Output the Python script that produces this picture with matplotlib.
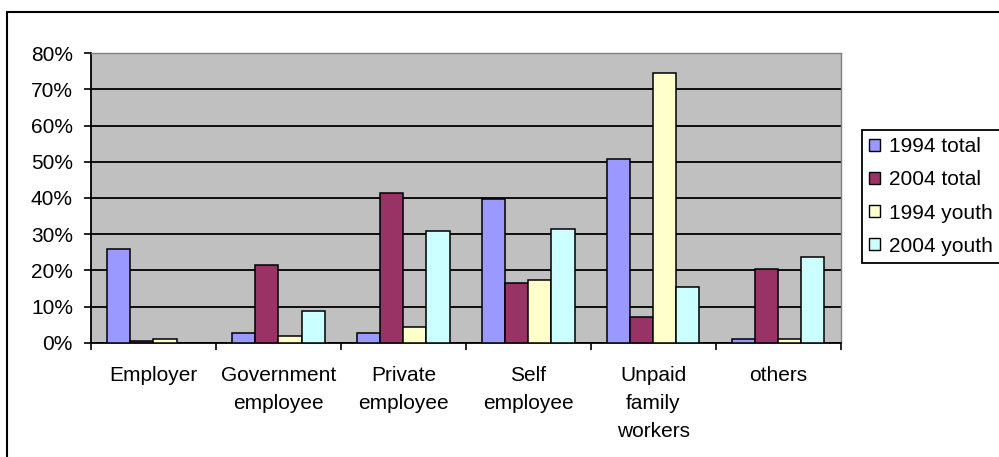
import numpy as np
import matplotlib
matplotlib.use("Agg")
import matplotlib.pyplot as plt
from matplotlib.patches import Rectangle, Patch
from matplotlib.ticker import FixedLocator, PercentFormatter

plt.rcParams['font.family'] = ['Liberation Sans', 'DejaVu Sans']

# employment status shares
categories = ["Employer", "Government\nemployee", "Private\nemployee",
              "Self\nemployee", "Unpaid\nfamily\nworkers", "others"]
series_names = ["1994 total", "2004 total", "1994 youth", "2004 youth"]
total_1994 = [25.9, 2.8, 2.7, 39.6, 50.9, 1.1]
total_2004 = [0.5, 21.5, 41.4, 16.5, 7.2, 20.5]
youth_1994 = [1.1, 1.8, 4.4, 17.2, 74.6, 1.0]
youth_2004 = [0.0, 8.9, 30.9, 31.4, 15.5, 23.8]
colors = ["#9999FF", "#993366", "#FFFFCC", "#CCFFFF"]

fig = plt.figure(figsize=(9.99, 4.57), dpi=100)
ax = fig.add_axes([0.0911, 0.2501, 0.7504, 0.6333])
ax.set_facecolor("#C0C0C0")

x = np.arange(len(categories))
w = 0.185
data = [total_1994, total_2004, youth_1994, youth_2004]
for i, (vals, c) in enumerate(zip(data, colors)):
    ax.bar(x + (i - 1.5) * w, vals, w, color=c, edgecolor="black",
           linewidth=1.1, zorder=3)

ax.set_xlim(-0.5, len(categories) - 0.5)
ax.set_ylim(0, 80)
ax.set_yticks(np.arange(0, 81, 10))
ax.yaxis.set_major_formatter(PercentFormatter(decimals=0))
ax.yaxis.grid(True, color="black", linewidth=1.3, zorder=1)
ax.set_axisbelow(True)

# category boundaries get tick marks, centres get the labels
ax.xaxis.set_major_locator(FixedLocator(np.arange(-0.5, len(categories), 1.0)))
ax.xaxis.set_major_formatter(plt.NullFormatter())
ax.xaxis.set_minor_locator(FixedLocator(x))
ax.set_xticklabels(categories, minor=True, fontsize=15, linespacing=1.6, va="top")
ax.tick_params(axis="x", which="major", direction="out", length=5, width=1.2)
ax.tick_params(axis="x", which="minor", length=0, pad=17)
ax.tick_params(axis="y", direction="out", length=5, width=1.2, pad=8, labelsize=15)

for s in ["left", "bottom"]:
    ax.spines[s].set_color("black")
    ax.spines[s].set_linewidth(1.3)
for s in ["top", "right"]:
    ax.spines[s].set_color("#808080")
    ax.spines[s].set_linewidth(1.0)

handles = [Patch(facecolor=c, edgecolor="black", linewidth=1.0) for c in colors]
leg = fig.legend(handles, series_names, loc="upper left",
                 bbox_to_anchor=(862 / 999, 1 - 130 / 457), fontsize=15,
                 handlelength=0.5, handleheight=0.5, handletextpad=0.45,
                 labelspacing=0.68, borderpad=0.35, borderaxespad=0,
                 fancybox=False, framealpha=1)
leg.get_frame().set_edgecolor("black")
leg.get_frame().set_linewidth(1.3)

# chart border
fig.patches.append(Rectangle((7 / 999, -0.1), 1.1, 1.1 - 12 / 457,
                             transform=fig.transFigure, fill=False,
                             edgecolor="black", linewidth=1.5))

fig.savefig("out.png", dpi=100)
